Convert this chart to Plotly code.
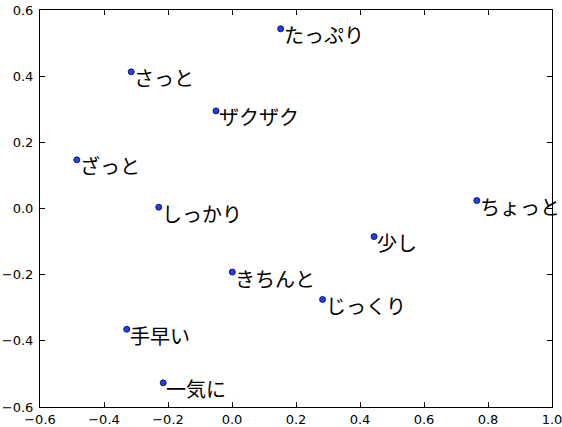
import plotly.graph_objects as go

words = ["たっぷり", "さっと", "ザクザク", "ざっと", "しっかり", "きちんと",
         "ちょっと", "少し", "じっくり", "手早い", "一気に"]
xs = [0.152, -0.315, -0.050, -0.485, -0.229, 0.001, 0.765, 0.444, 0.283, -0.329, -0.215]
ys = [0.543, 0.413, 0.295, 0.147, 0.004, -0.192, 0.024, -0.085, -0.275, -0.365, -0.527]
x_ticks = [-0.6, -0.4, -0.2, 0.0, 0.2, 0.4, 0.6, 0.8, 1.0]
y_ticks = [-0.6, -0.4, -0.2, 0.0, 0.2, 0.4, 0.6]

fig = go.Figure()
fig.add_trace(go.Scatter(
    x=xs, y=ys, mode="markers",
    marker=dict(size=6, color="#1f3fff", line=dict(color="#000033", width=0.8)),
    cliponaxis=False, hoverinfo="skip"))

for w, x, y in zip(words, xs, ys):
    fig.add_annotation(x=x, y=y, text=w, showarrow=False, xanchor="left",
                       yanchor="middle", xshift=1, yshift=-6,
                       font=dict(family="Noto Sans CJK JP", size=20, color="black"))

axis_common = dict(showline=True, linecolor="black", linewidth=1, mirror="ticks",
                   ticks="inside", ticklen=5, tickcolor="black", showgrid=False,
                   zeroline=False, tickformat=".1f", automargin=False,
                   ticklabeloverflow="allow",
                   tickfont=dict(family="DejaVu Sans", size=13, color="black"))
fig.update_xaxes(range=[-0.6, 1.0], tickvals=x_ticks, ticklabelstandoff=0, **axis_common)
fig.update_yaxes(range=[-0.6, 0.6], tickvals=y_ticks, ticklabelstandoff=3, **axis_common)

fig.update_layout(width=562, height=427, margin=dict(l=40, r=10, t=10, b=20),
                  plot_bgcolor="white", paper_bgcolor="white", showlegend=False)
fig.write_html("out.html", config={"displayModeBar": False},
               post_script="document.body.style.margin='0';")
